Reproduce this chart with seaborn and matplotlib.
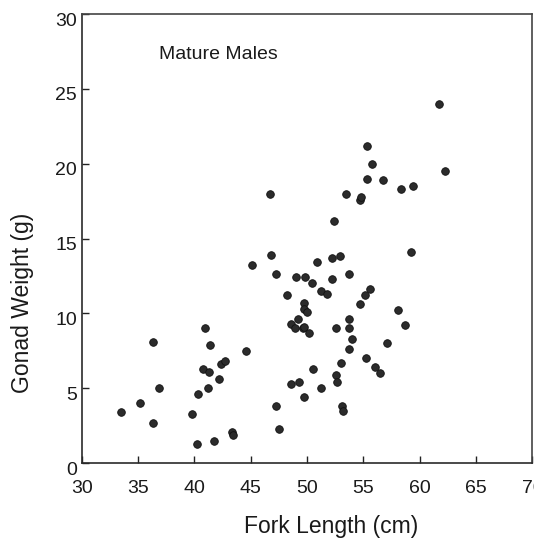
import matplotlib
matplotlib.use("Agg")
import matplotlib.pyplot as plt
import matplotlib.transforms as mtransforms
import numpy as np
import pandas as pd
import seaborn as sns

# Fork length (cm) and gonad weight (g) of mature males
fork_length = [
    46.7, 61.7, 55.3, 55.8, 62.2, 55.3, 56.7, 53.5, 54.7, 54.8,
    58.3, 59.4, 52.4, 59.2, 50.9, 52.2, 52.9, 46.8, 45.1, 47.2,
    49.0, 49.8, 50.4, 52.2, 53.7, 51.2, 51.8, 55.6, 55.1, 54.7,
    48.2, 49.7, 49.7, 50.0, 58.1, 58.7, 49.2, 48.6, 48.9, 49.6,
    49.7, 50.2, 52.6, 53.7, 53.7, 54.0, 53.7, 57.1, 55.2, 53.0,
    50.5, 56.0, 56.5, 52.6, 52.7, 48.6, 49.3, 51.2, 49.7, 47.2,
    53.1, 53.2, 47.5, 40.9, 36.3, 41.4, 44.6, 40.8, 41.3, 42.4,
    42.7, 42.2, 36.9, 41.2, 40.3, 35.2, 33.5, 39.8, 36.3, 43.3,
    43.4, 41.7, 40.2,
]
gonad_weight = [
    18.0, 24.0, 21.2, 20.0, 19.5, 19.0, 18.9, 18.0, 17.6, 17.8,
    18.3, 18.5, 16.2, 14.1, 13.4, 13.7, 13.8, 13.9, 13.2, 12.6,
    12.4, 12.4, 12.0, 12.3, 12.6, 11.5, 11.3, 11.6, 11.2, 10.6,
    11.2, 10.7, 10.3, 10.1, 10.2, 9.2, 9.6, 9.3, 9.0, 9.0,
    9.1, 8.7, 9.0, 9.6, 9.0, 8.3, 7.6, 8.0, 7.0, 6.7,
    6.3, 6.4, 6.0, 5.9, 5.4, 5.3, 5.4, 5.0, 4.4, 3.8,
    3.8, 3.5, 2.3, 9.0, 8.1, 7.9, 7.5, 6.3, 6.1, 6.6,
    6.8, 5.6, 5.0, 5.0, 4.6, 4.0, 3.4, 3.3, 2.7, 2.1,
    1.9, 1.5, 1.3,
]
x_ticks = [30, 35, 40, 45, 50, 55, 60, 65, 70]
y_ticks = [0, 5, 10, 15, 20, 25, 30]
panel_label = "Mature Males"

df = pd.DataFrame({"Fork Length (cm)": fork_length, "Gonad Weight (g)": gonad_weight})

sns.set_theme(style="white")
plt.rcParams["font.family"] = ["Liberation Sans", "DejaVu Sans"]

fig = plt.figure(figsize=(5.34, 5.39), dpi=100)
ax = fig.add_axes([0.153, 0.141, 0.844, 0.833])

sns.scatterplot(
    data=df, x="Fork Length (cm)", y="Gonad Weight (g)", ax=ax,
    s=30, color="#2b2b2b", edgecolor="#111111", linewidth=0.6,
    legend=False,
)

ax.set_xlim(30, 70)
ax.set_ylim(0, 30)
ax.set_xticks(x_ticks)
ax.set_yticks(y_ticks)
ax.set_xticklabels([str(t) for t in x_ticks])
ax.set_yticklabels([str(t) for t in y_ticks])

ax.tick_params(axis="both", direction="in", length=5, width=1.0,
               color="#222222", labelsize=14, labelcolor="#1a1a1a",
               bottom=True, left=True, top=False, right=False)
ax.tick_params(axis="x", pad=12)
ax.tick_params(axis="y", pad=3.5)

# y tick labels sit slightly below their ticks
shift = mtransforms.ScaledTranslation(0, -5 / 100, fig.dpi_scale_trans)
for lab in ax.get_yticklabels():
    lab.set_transform(lab.get_transform() + shift)

for side, sp in ax.spines.items():
    sp.set_visible(True)
    sp.set_linewidth(1.2)
    sp.set_color("#2a2a2a" if side in ("left", "bottom") else "#444444")

ax.set_xlabel("Fork Length (cm)", fontsize=16.5, color="#1a1a1a")
ax.set_ylabel("Gonad Weight (g)", fontsize=16.5, color="#1a1a1a")
ax.xaxis.set_label_coords(0.553, -0.115)
ax.yaxis.set_label_coords(-0.105, 0.356)

ax.text(36.9, 27.3, panel_label, fontsize=14, ha="left", va="center",
        color="#1a1a1a")

fig.savefig("out.png", dpi=100)
